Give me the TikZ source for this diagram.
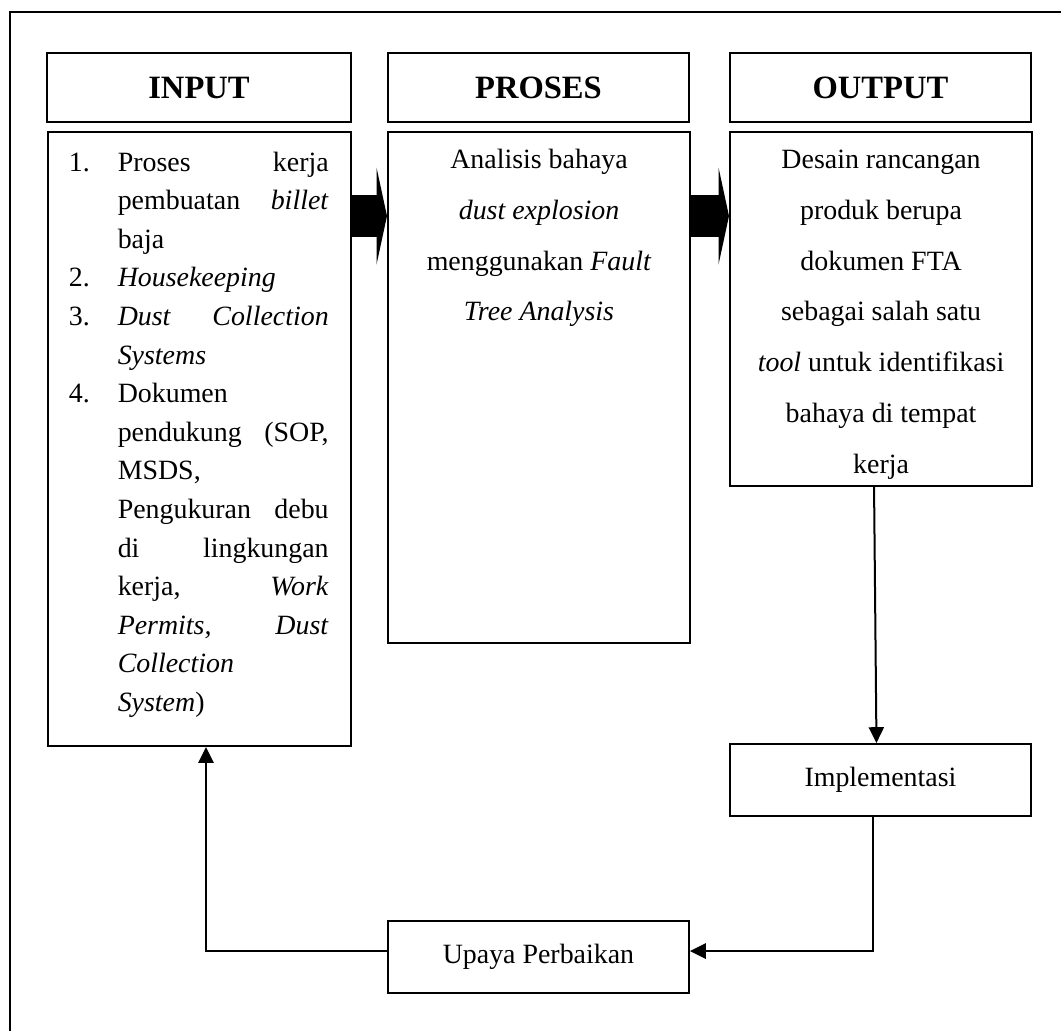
\documentclass[tikz,border=0pt]{standalone}
\usepackage{fontspec}
\setmainfont{Liberation Serif}
\usetikzlibrary{calc,arrows.meta}

\tikzset{every picture/.style={line width=0.86pt}}
\tikzset{
  headbox/.style={draw, inner sep=0pt, anchor=north west, minimum height=29.7pt, font=\fontsize{14}{17}\selectfont\bfseries},
  listbox/.style={draw, inner sep=0pt, anchor=north west},
  stepbox/.style={draw, inner sep=0pt, anchor=north west, minimum width=129.4pt, minimum height=31pt, font=\fontsize{12}{14}\selectfont},
  flow/.style={-{Triangle[length=6.8pt,width=6.5pt]}},
  bigarrow/.style={line width=18pt, -{Triangle[length=4.5pt,width=41.7pt,line width=0pt]}}
}
\newcommand{\jline}[1]{\makebox[\linewidth][s]{#1}}

\begin{document}
\begin{tikzpicture}[x=0.43pt,y=0.43pt,yscale=-1,xscale=1]
    \useasboundingbox (0,0) rectangle (1061,1031);

    %Frame
    \draw (10,1031) -- (10,12) -- (1061,12);

    %Headers
    \node[headbox, minimum width=130.7pt] (hin) at (46,52) {INPUT};
    \node[headbox, minimum width=129.4pt] (hpr) at (387,52) {PROSES};
    \node[headbox, minimum width=129.4pt] (hout) at (729,52) {OUTPUT};

    %Input box
    \node[listbox] (bin) at (47,131) {\parbox[c][264pt][t]{130.3pt}{%
      \vspace*{5.2pt}\fontsize{12}{16.6}\selectfont\hspace*{9pt}%
      \begin{tabular}[t]{@{}p{21pt}@{}p{90.7pt}@{}}
      1. & \jline{Proses kerja}\\
         & \jline{pembuatan \textit{billet}}\\
         & baja\\
      2. & \textit{Housekeeping}\\
      3. & \jline{\textit{Dust Collection}}\\
         & \textit{Systems}\\
      4. & Dokumen\\
         & \jline{pendukung (SOP,}\\
         & MSDS,\\
         & \jline{Pengukuran debu}\\
         & \jline{di lingkungan}\\
         & \jline{kerja, \textit{Work}}\\
         & \jline{\textit{Permits, Dust}}\\
         & \textit{Collection}\\
         & \textit{System})
      \end{tabular}}};

    %Process box
    \node[listbox] (bpr) at (387,131) {\parbox[c][219.7pt][t]{129.9pt}{%
      \vspace*{0.6pt}\centering\fontsize{12}{21.8}\selectfont
      \strut Analisis bahaya\\
      \textit{dust explosion}\\
      menggunakan \textit{Fault}\\
      \textit{Tree Analysis}\par}};

    %Output box
    \node[listbox] (bout) at (729,131) {\parbox[c][152.2pt][t]{129.9pt}{%
      \vspace*{0.6pt}\centering\fontsize{12}{21.8}\selectfont
      \strut Desain rancangan\\
      produk berupa\\
      dokumen FTA\\
      sebagai salah satu\\
      \textit{tool} untuk identifikasi\\
      bahaya di tempat\\
      kerja\par}};

    %Steps
    \node[stepbox] (impl) at (729,743) {Implementasi};
    \node[stepbox] (upaya) at (387,920) {Upaya Perbaikan};

    %Block arrows
    \coordinate (a1) at ($(bin.north east)+(0,85)$);
    \coordinate (a2) at ($(bpr.north east)+(0,85)$);
    \draw[bigarrow] (a1) -- (a1 -| bpr.west);
    \draw[bigarrow] (a2) -- (a2 -| bout.west);

    %Loop
    \draw[flow] ($(bout.south)+(-7,0)$) -- ($(impl.north)+(-4,0)$);
    \draw[flow] ($(impl.south)+(-7,0)$) |- ($(upaya.east)+(0,-6)$);
    \draw[flow] ($(upaya.west)+(0,-6)$) -| ($(bin.south)+(6.5,0)$);

\end{tikzpicture}
\end{document}
